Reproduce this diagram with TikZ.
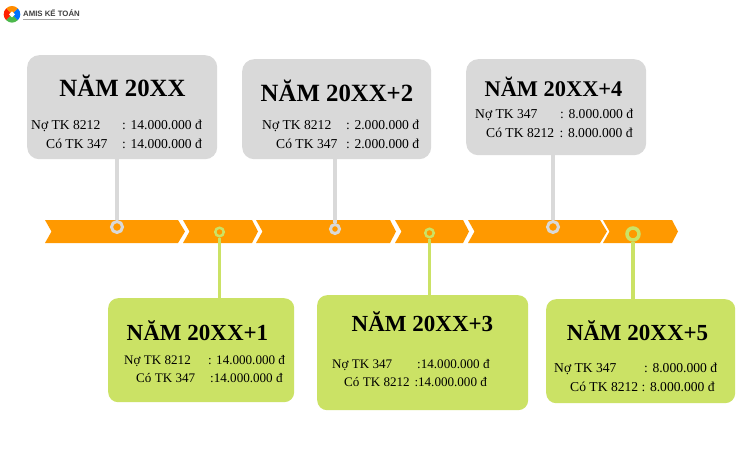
\documentclass[tikz,border=0pt]{standalone}
\usepackage{fontspec}
\setmainfont{Liberation Serif}
\newfontfamily\logofont{Liberation Sans}
\definecolor{arrowc}{HTML}{FF9900}
\definecolor{grayc}{HTML}{D9D9D9}
\definecolor{greenc}{HTML}{CBE265}
\tikzset{
  boxg/.style={fill=grayc,rounded corners=12pt,anchor=north west,inner sep=0pt},
  boxl/.style={fill=greenc,rounded corners=10pt,anchor=north west,inner sep=0pt},
  ttl/.style={anchor=base,inner sep=0pt,font=\bfseries\fontsize{24.8}{25}\selectfont,text=black},
  ttm/.style={anchor=base,inner sep=0pt,font=\bfseries\fontsize{23}{24}\selectfont,text=black},
  ttc/.style={anchor=base,inner sep=0pt,font=\bfseries\fontsize{22.4}{24}\selectfont,text=black},
  ln/.style={anchor=base west,inner sep=0pt,font=\fontsize{13.6}{14}\selectfont,text=black},
  ls/.style={anchor=base west,inner sep=0pt,font=\fontsize{13.1}{14}\selectfont,text=black},
  dotg/.style={circle,draw=grayc,fill=arrowc,inner sep=0pt,line width=3pt},
  dotl/.style={circle,draw=greenc,fill=arrowc,inner sep=0pt,line width=2.5pt},
  cong/.style={draw=grayc,line width=4pt},
  conl/.style={draw=greenc,line width=3.2pt},
}
\newcommand{\chev}[3]{\fill[arrowc] (#1,220) -- (#2,220) -- (#3,231.5) -- (#2,243) -- (#1,243) -- ++(6.5,-11.5) -- cycle;}
\newcommand{\rect}[6]{\node[#1,minimum width=#4pt,minimum height=#5pt] (#6) at (#2,#3) {};}
\begin{document}
\begin{tikzpicture}[x=1pt,y=-1pt]
\useasboundingbox (0,0) rectangle (740,450);
\fill[white] (0,0) rectangle (740,450);
% logo
\begin{scope}[shift={(12,14.3)}]
\fill[orange!90!yellow] (0,0) -- (-135:8.3) arc (-135:-45:8.3) -- cycle;
\fill[red!75!orange] (0,0) -- (135:8.3) arc (135:225:8.3) -- cycle;
\fill[green!60!black!70!white] (0,0) -- (45:8.3) arc (45:135:8.3) -- cycle;
\fill[blue!55!cyan] (0,0) -- (-45:8.3) arc (-45:45:8.3) -- cycle;
\fill[white] (-3,0) -- (0,-3) -- (3,0) -- (0,3) -- cycle;
\end{scope}
\node[anchor=base west,inner sep=0pt,font=\logofont\bfseries\fontsize{7.8}{8}\selectfont,text=black!75] (logo) at (23,16.5) {AMIS KẾ TOÁN};
\fill[black!35] (23,18.7) rectangle (79,19.7);
% timeline
\chev{45}{178}{185}
\chev{183}{252}{258}
\chev{256}{390}{396}
\chev{395}{463}{469}
\chev{468}{600}{607}
\chev{603}{672}{678}
% boxes
\rect{boxg}{27}{55}{190}{104}{a}
\rect{boxg}{242}{59}{189}{100}{b}
\rect{boxg}{466}{59}{180}{96}{c}
\rect{boxl}{108}{298}{186}{104}{d}
\rect{boxl}{317}{295}{211}{115}{e}
\rect{boxl}{546}{299}{189}{104}{f}
% dots
\node[dotg,minimum size=11pt] (pa) at (117,227) {};
\node[dotl,minimum size=8.5pt] (pd) at (219.5,232) {};
\node[dotg,minimum size=9pt] (pb) at (335,229) {};
\node[dotl,minimum size=8.5pt] (pe) at (429.5,233) {};
\node[dotg,minimum size=11pt] (pc) at (553,227) {};
\node[dotl,minimum size=12pt,line width=3.5pt] (pf) at (633,234) {};
% connectors
\draw[cong] (a.south -| pa) -- (pa.north);
\draw[cong] (b.south -| pb) -- (pb.north);
\draw[cong] (c.south -| pc) -- (pc.north);
\draw[conl] (d.north -| pd) -- (pd.south);
\draw[conl] (e.north -| pe) -- (pe.south);
\draw[conl] (f.north -| pf) -- (pf.south);
% titles
\node[ttl] (ta) at (122.5,96) {NĂM 20XX};
\node[ttl] (tb) at (337,101) {NĂM 20XX+2};
\node[ttc] (tc) at (553.5,96) {NĂM 20XX+4};
\node[ttm] (td) at (197.5,340) {NĂM 20XX+1};
\node[ttm] (te) at (422.5,331) {NĂM 20XX+3};
\node[ttm] (tf) at (637.5,340) {NĂM 20XX+5};
% box a
\node[ln] (a1) at (31,129) {Nợ TK 8212};
\node[ln] (a2) at (122,129) {: 14.000.000 đ};
\node[ln] (a3) at (46,148) {Có TK 347};
\node[ln] (a4) at (122,148) {: 14.000.000 đ};
% box b
\node[ln] (b1) at (262,129) {Nợ TK 8212};
\node[ln] (b2) at (346,129) {: 2.000.000 đ};
\node[ln] (b3) at (276,148) {Có TK 347};
\node[ln] (b4) at (346,148) {: 2.000.000 đ};
% box c
\node[ln] (c1) at (475,118) {Nợ TK 347};
\node[ln] (c2) at (560,118) {: 8.000.000 đ};
\node[ln] (c3) at (486,137.5) {Có TK 8212};
\node[ln] (c4) at (559.5,137.5) {: 8.000.000 đ};
% box d
\node[ls] (d1) at (124,364) {Nợ TK 8212};
\node[ls] (d2) at (208,364) {: 14.000.000 đ};
\node[ls] (d3) at (136,382) {Có TK 347};
\node[ls] (d4) at (210,382) {:14.000.000 đ};
% box e
\node[ls] (e1) at (332,368) {Nợ TK 347};
\node[ls] (e2) at (417,368) {:14.000.000 đ};
\node[ls] (e3) at (344,386) {Có TK 8212};
\node[ls] (e4) at (414.3,386) {:14.000.000 đ};
% box f
\node[ln] (f1) at (554,372) {Nợ TK 347};
\node[ln] (f2) at (644,372) {: 8.000.000 đ};
\node[ln] (f3) at (570,391) {Có TK 8212};
\node[ln] (f4) at (641.5,391) {: 8.000.000 đ};
\end{tikzpicture}
\end{document}
